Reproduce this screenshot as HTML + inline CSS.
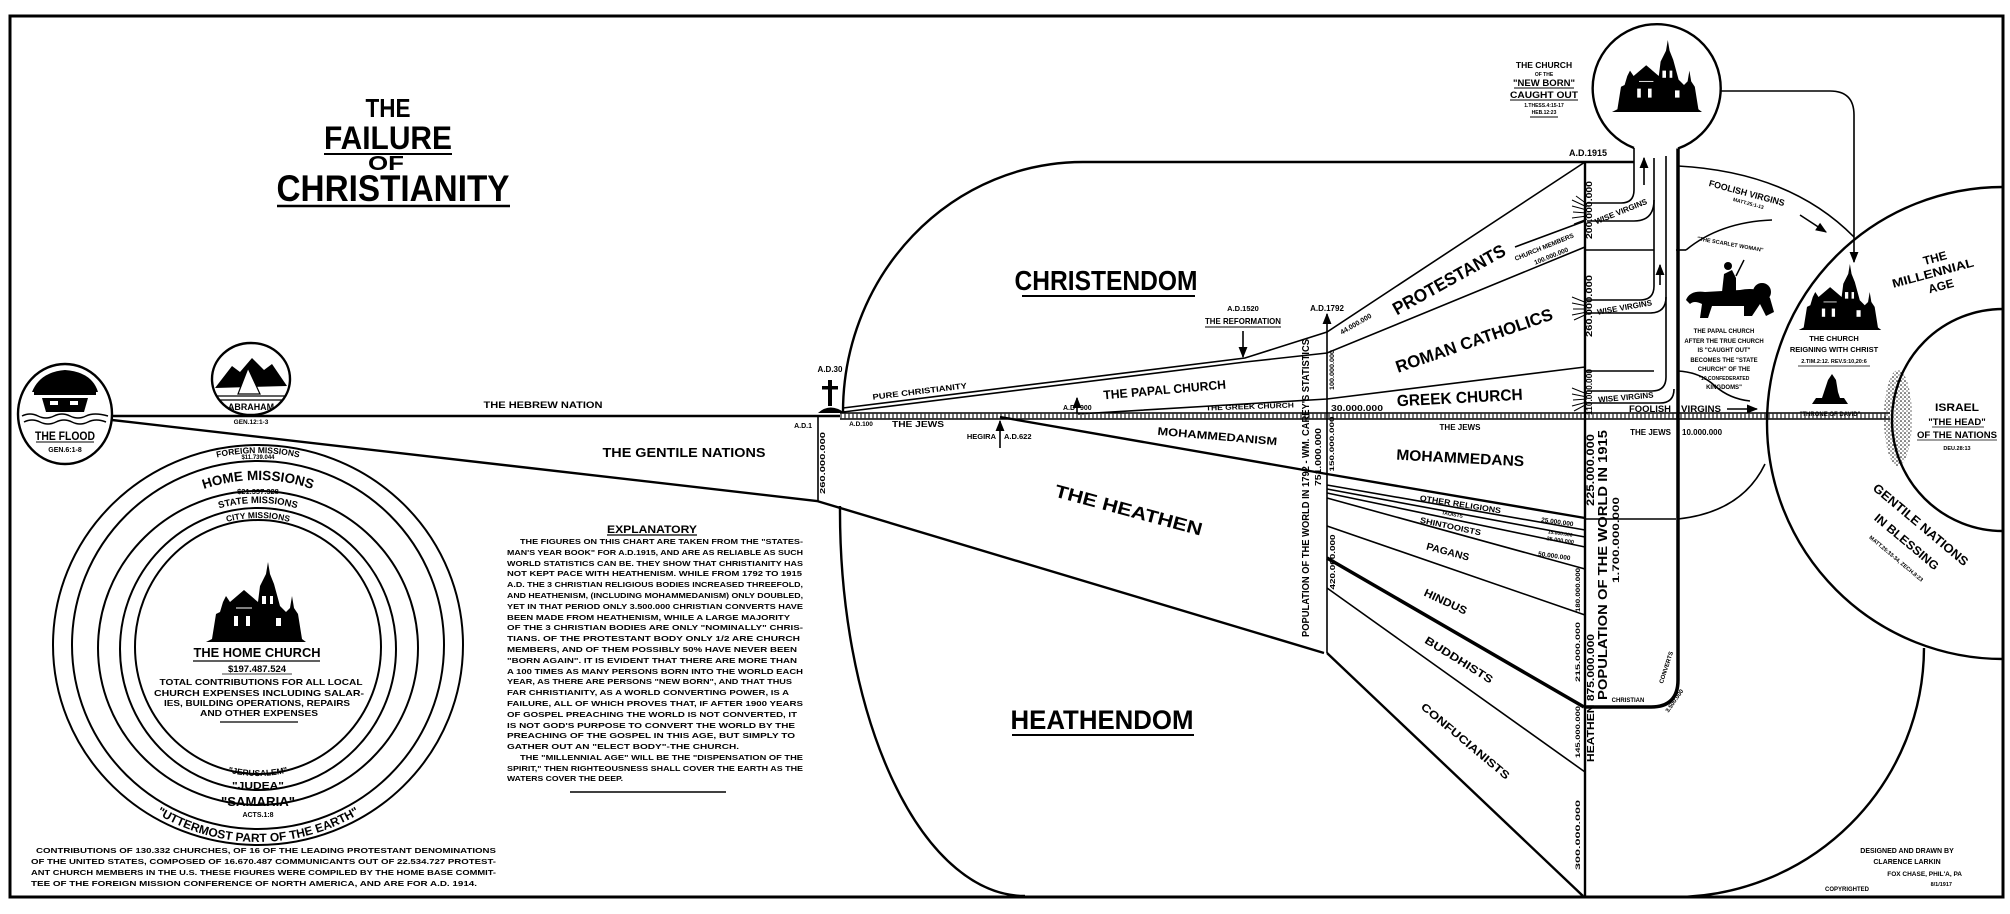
<!DOCTYPE html>
<html><head><meta charset="utf-8">
<style>
html,body{margin:0;padding:0;background:#fff;}
svg{display:block;}
text{font-family:"Liberation Sans",sans-serif;font-weight:bold;fill:#000;}
.ln{stroke:#000;fill:none;stroke-width:1.6;}
.th{stroke:#000;fill:none;stroke-width:2.4;}
</style></head>
<body>
<svg width="2010" height="914" viewBox="0 0 2010 914" xmlns="http://www.w3.org/2000/svg">
<defs>
<symbol id="church" viewBox="0 0 100 80">
<path d="M0,80 L100,80 L96,77 L92,52 L88,46 L86,34 L84,46 L80,50 L74,44 L68,22 L64,12 L62,0 L60,12 L54,24 L52,40 L38,28 L24,40 L20,34 L17,40 L14,50 L10,52 L6,77 Z" fill="#000"/>
<rect x="56" y="34" width="4" height="8" fill="#fff"/><rect x="64" y="34" width="3" height="8" fill="#fff"/>
<rect x="28" y="54" width="4" height="10" fill="#fff"/><rect x="40" y="54" width="4" height="10" fill="#fff"/>
<rect x="70" y="56" width="5" height="8" fill="#fff"/><path d="M30,46 L46,46" stroke="#fff" stroke-width="1"/>
</symbol>
<pattern id="dots" width="4" height="4" patternUnits="userSpaceOnUse"><circle cx="1" cy="1" r="0.8" fill="#000"/><circle cx="3" cy="3" r="0.6" fill="#000"/></pattern>
<marker id="ah" viewBox="0 0 10 10" refX="9" refY="5" markerWidth="7" markerHeight="7" orient="auto"><path d="M0,1 L10,5 L0,9 Z" fill="#000"/></marker>
<path id="fm" d="M65,646 A193,193 0 0 1 451,646"/>
<path id="hm" d="M92,646 A166,166 0 0 1 424,646"/>
<path id="sm" d="M115,646 A143,143 0 0 1 401,646"/>
<path id="cm" d="M130,646 A128,128 0 0 1 386,646"/>
<path id="jer" d="M128,646 A130,130 0 0 0 388,646"/>
<path id="upe" d="M62,646 A196,196 0 0 0 454,646"/>
</defs>

<rect x="10" y="16" width="1993" height="881" fill="none" stroke="#000" stroke-width="3"/>

<text x="388" y="117" font-size="26" text-anchor="middle" textLength="45" lengthAdjust="spacingAndGlyphs">THE</text>
<text x="388" y="149" font-size="32" text-anchor="middle" textLength="128" lengthAdjust="spacingAndGlyphs">FAILURE</text>
<line x1="324" y1="154" x2="452" y2="154" stroke="#000" stroke-width="2"/>
<text x="386" y="170" font-size="20" text-anchor="middle" textLength="36" lengthAdjust="spacingAndGlyphs">OF</text>
<text x="393" y="201" font-size="37" text-anchor="middle" textLength="233" lengthAdjust="spacingAndGlyphs">CHRISTIANITY</text>
<line x1="277" y1="206" x2="510" y2="206" stroke="#000" stroke-width="2.5"/>

<ellipse cx="65" cy="414" rx="47" ry="50" class="th"/>
<path d="M32,392 Q40,372 65,370 Q92,372 98,392 Z" fill="#000"/>
<rect x="34" y="392" width="62" height="3" fill="#000"/>
<path d="M42,398 L88,398 L84,412 L46,412 Z" fill="#000"/>
<rect x="50" y="401" width="8" height="4" fill="#fff"/><rect x="70" y="401" width="8" height="4" fill="#fff"/>
<path d="M22,416 Q30,412 38,416 Q46,420 54,416 Q62,412 70,416 Q78,420 86,416 Q94,412 108,416 M24,422 Q32,418 40,422 Q48,426 56,422 Q64,418 72,422 Q80,426 88,422 Q96,418 106,422" stroke="#000" stroke-width="1.5" fill="none"/>
<text x="65" y="440" font-size="12" text-anchor="middle" textLength="60" lengthAdjust="spacingAndGlyphs">THE FLOOD</text>
<line x1="36" y1="442" x2="94" y2="442" stroke="#000" stroke-width="1"/>
<text x="65" y="452" font-size="7" text-anchor="middle">GEN.6:1-8</text>

<ellipse cx="251" cy="379" rx="39" ry="36" class="th"/>
<path d="M215,388 L232,366 L240,372 L252,358 L264,370 L272,364 L287,386 Z" fill="#000"/>
<path d="M248,368 L238,394 L260,394 Z" fill="#fff" stroke="#000" stroke-width="1.2"/>
<path d="M216,396 L286,396 M220,400 L282,400" stroke="#000" stroke-width="1.2"/>
<text x="251" y="410" font-size="9" text-anchor="middle" textLength="46" lengthAdjust="spacingAndGlyphs">ABRAHAM</text>
<text x="251" y="424" font-size="6.5" text-anchor="middle">GEN.12:1-3</text>

<line x1="112" y1="416" x2="842" y2="416" stroke="#000" stroke-width="2.6"/>
<text x="543" y="408" font-size="9.5" text-anchor="middle" textLength="119" lengthAdjust="spacingAndGlyphs">THE HEBREW NATION</text>
<polyline points="112,420 817,501 1324,653" class="th"/>
<text x="684" y="457" font-size="13" text-anchor="middle" textLength="163" lengthAdjust="spacingAndGlyphs">THE GENTILE NATIONS</text>

<line x1="818" y1="416" x2="818" y2="501" class="ln"/>
<text transform="translate(825,463) rotate(-90)" font-size="7" text-anchor="middle" textLength="62" lengthAdjust="spacingAndGlyphs">260.000.000</text>
<text x="812" y="428" font-size="7" text-anchor="end">A.D.1</text>
<rect x="828" y="380" width="4" height="26" fill="#000"/><rect x="822" y="386" width="16" height="3.5" fill="#000"/>
<path d="M818,413 Q830,402 845,413 Z" fill="#000"/>
<text x="830" y="372" font-size="8" text-anchor="middle">A.D.30</text>

<path d="M843,413 A240,250 0 0 1 1083,162 L1634,162" class="th"/>
<path d="M840,506 A185,385 0 0 0 1025,896" class="th"/>
<text x="1106" y="290" font-size="28" text-anchor="middle" textLength="183" lengthAdjust="spacingAndGlyphs">CHRISTENDOM</text>
<line x1="1022" y1="296" x2="1195" y2="296" stroke="#000" stroke-width="2"/>
<text x="1102" y="729" font-size="27" text-anchor="middle" textLength="183" lengthAdjust="spacingAndGlyphs">HEATHENDOM</text>
<line x1="1012" y1="735" x2="1194" y2="735" stroke="#000" stroke-width="2"/>

<polyline points="843,408 1245,358 1327,332 1585,162" class="ln"/>
<polyline points="843,412 1245,362 1327,353 1585,247" class="ln"/>
<polyline points="1078,414 1327,399 1585,367" class="ln"/>
<line x1="1243" y1="331" x2="1243" y2="357" class="ln" marker-end="url(#ah)"/>
<text x="1243" y="311" font-size="7.5" text-anchor="middle">A.D.1520</text>
<text x="1243" y="324" font-size="8.5" text-anchor="middle" textLength="76" lengthAdjust="spacingAndGlyphs">THE REFORMATION</text>
<line x1="1205" y1="327" x2="1281" y2="327" stroke="#000" stroke-width="1"/>
<line x1="1077" y1="414" x2="1077" y2="398" class="ln" marker-end="url(#ah)"/>
<text x="1075" y="410" font-size="7" text-anchor="end">A.D</text><text x="1080" y="410" font-size="7">900</text>
<text transform="translate(920,394) rotate(-7)" font-size="8" text-anchor="middle" textLength="95" lengthAdjust="spacingAndGlyphs">PURE CHRISTIANITY</text>
<text transform="translate(1165,394) rotate(-5)" font-size="12.5" text-anchor="middle" textLength="123" lengthAdjust="spacingAndGlyphs">THE PAPAL CHURCH</text>
<text transform="translate(1250,409) rotate(-2)" font-size="7" text-anchor="middle" textLength="88" lengthAdjust="spacingAndGlyphs">THE GREEK CHURCH</text>

<line x1="840" y1="416" x2="1888" y2="416" stroke="#777" stroke-width="4.5" stroke-dasharray="2,2"/>
<line x1="840" y1="413" x2="1890" y2="413" stroke="#000" stroke-width="1.6"/>
<line x1="840" y1="419" x2="1890" y2="419" stroke="#000" stroke-width="1.6"/>

<text x="861" y="426" font-size="6.5" text-anchor="middle">A.D.100</text>
<text x="918" y="427" font-size="8.5" text-anchor="middle" textLength="52" lengthAdjust="spacingAndGlyphs">THE JEWS</text>
<line x1="1000" y1="448" x2="1000" y2="421" class="ln" marker-end="url(#ah)"/>
<text x="996" y="439" font-size="7.5" text-anchor="end">HEGIRA</text>
<text x="1004" y="439" font-size="7.5">A.D.622</text>

<polyline points="1000,417 1327,474 1585,518" class="th"/>
<text transform="translate(1217,440) rotate(5)" font-size="11" text-anchor="middle" textLength="120" lengthAdjust="spacingAndGlyphs">MOHAMMEDANISM</text>
<text transform="translate(1127,516) rotate(15)" font-size="18" text-anchor="middle" textLength="152" lengthAdjust="spacingAndGlyphs">THE HEATHEN</text>

<line x1="1327" y1="485" x2="1585" y2="530" class="ln"/>
<line x1="1327" y1="489" x2="1585" y2="537" class="ln"/>
<line x1="1327" y1="493" x2="1585" y2="547" class="ln"/>
<line x1="1327" y1="498" x2="1585" y2="569" class="ln"/>
<line x1="1327" y1="526" x2="1585" y2="615" class="ln"/>
<line x1="1327" y1="558" x2="1584" y2="707" stroke="#000" stroke-width="3.5"/>
<line x1="1327" y1="588" x2="1585" y2="772" class="ln"/>
<line x1="1327" y1="653" x2="1583" y2="896" class="th"/>

<line x1="1327" y1="653" x2="1327" y2="314" class="ln" marker-end="url(#ah)"/>
<text x="1327" y="311" font-size="8" text-anchor="middle">A.D.1792</text>
<text transform="translate(1309,488) rotate(-90)" font-size="10.5" text-anchor="middle" textLength="298" lengthAdjust="spacingAndGlyphs">POPULATION OF THE WORLD IN 1792 - WM. CAREY'S STATISTICS</text>
<text transform="translate(1321,457) rotate(-90)" font-size="8" text-anchor="middle" textLength="58" lengthAdjust="spacingAndGlyphs">751.000.000</text>
<text transform="translate(1334,370) rotate(-90)" font-size="6" text-anchor="middle" textLength="40" lengthAdjust="spacingAndGlyphs">100.000.000</text>
<text transform="translate(1334,444) rotate(-90)" font-size="6.5" text-anchor="middle" textLength="55" lengthAdjust="spacingAndGlyphs">150.000.000</text>
<text transform="translate(1335,562) rotate(-90)" font-size="7" text-anchor="middle" textLength="55" lengthAdjust="spacingAndGlyphs">420.000.000</text>
<text transform="translate(1357,326) rotate(-30)" font-size="7" text-anchor="middle">44.000.000</text>
<text x="1331" y="411" font-size="8" textLength="52" lengthAdjust="spacingAndGlyphs">30.000.000</text>

<text transform="translate(1452,285) rotate(-29)" font-size="18" text-anchor="middle" textLength="126" lengthAdjust="spacingAndGlyphs">PROTESTANTS</text>
<line x1="1515" y1="247" x2="1585" y2="221" class="ln"/>
<text transform="translate(1545,249) rotate(-22)" font-size="6.5" text-anchor="middle">CHURCH MEMBERS</text>
<text transform="translate(1552,258) rotate(-22)" font-size="6.5" text-anchor="middle">100.000.000</text>
<text transform="translate(1476,346) rotate(-19)" font-size="17" text-anchor="middle" textLength="165" lengthAdjust="spacingAndGlyphs">ROMAN CATHOLICS</text>
<text transform="translate(1460,403) rotate(-3)" font-size="16" text-anchor="middle" textLength="126" lengthAdjust="spacingAndGlyphs">GREEK CHURCH</text>
<text x="1460" y="430" font-size="8" text-anchor="middle">THE JEWS</text>
<text transform="translate(1460,463) rotate(3)" font-size="15" text-anchor="middle" textLength="128" lengthAdjust="spacingAndGlyphs">MOHAMMEDANS</text>
<text transform="translate(1460,507) rotate(9)" font-size="8" text-anchor="middle" textLength="82" lengthAdjust="spacingAndGlyphs">OTHER RELIGIONS</text>
<text transform="translate(1452,516) rotate(10)" font-size="5" text-anchor="middle">TAOISTS</text>
<text transform="translate(1450,529) rotate(12)" font-size="8" text-anchor="middle" textLength="62" lengthAdjust="spacingAndGlyphs">SHINTOOISTS</text>
<text transform="translate(1447,555) rotate(15)" font-size="10" text-anchor="middle" textLength="44" lengthAdjust="spacingAndGlyphs">PAGANS</text>
<text transform="translate(1444,605) rotate(25)" font-size="11" text-anchor="middle" textLength="46" lengthAdjust="spacingAndGlyphs">HINDUS</text>
<text transform="translate(1457,663) rotate(32)" font-size="11" text-anchor="middle" textLength="78" lengthAdjust="spacingAndGlyphs">BUDDHISTS</text>
<text transform="translate(1463,744) rotate(40)" font-size="11" text-anchor="middle" textLength="112" lengthAdjust="spacingAndGlyphs">CONFUCIANISTS</text>
<text transform="translate(1557,524) rotate(8)" font-size="6.5" text-anchor="middle">25.000.000</text>
<text transform="translate(1560,535) rotate(8)" font-size="5" text-anchor="middle">15.000.000</text>
<text transform="translate(1560,542) rotate(8)" font-size="5.5" text-anchor="middle">25.000.000</text>
<text transform="translate(1554,558) rotate(8)" font-size="6.5" text-anchor="middle">50.000.000</text>

<line x1="1585" y1="162" x2="1585" y2="896" class="th"/>
<text x="1588" y="156" font-size="9" text-anchor="middle">A.D.1915</text>
<text transform="translate(1592,210) rotate(-90)" font-size="8.5" text-anchor="middle" textLength="58" lengthAdjust="spacingAndGlyphs">200.000.000</text>
<text transform="translate(1592,306) rotate(-90)" font-size="8.5" text-anchor="middle" textLength="62" lengthAdjust="spacingAndGlyphs">260.000.000</text>
<text transform="translate(1592,392) rotate(-90)" font-size="8.5" text-anchor="middle" textLength="46" lengthAdjust="spacingAndGlyphs">110.000.000</text>
<text transform="translate(1594,470) rotate(-90)" font-size="11" text-anchor="middle" textLength="72" lengthAdjust="spacingAndGlyphs">225.000.000</text>
<text transform="translate(1607,565) rotate(-90)" font-size="13" text-anchor="middle" textLength="270" lengthAdjust="spacingAndGlyphs">POPULATION OF THE WORLD IN 1915</text>
<text transform="translate(1619,540) rotate(-90)" font-size="9" text-anchor="middle" textLength="86" lengthAdjust="spacingAndGlyphs">1.700.000.000</text>
<text transform="translate(1594,698) rotate(-90)" font-size="10" text-anchor="middle" textLength="128" lengthAdjust="spacingAndGlyphs">HEATHEN 875.000.000</text>
<text transform="translate(1580,590) rotate(-90)" font-size="6" text-anchor="middle" textLength="44" lengthAdjust="spacingAndGlyphs">180.000.000</text>
<text transform="translate(1580,652) rotate(-90)" font-size="6.5" text-anchor="middle" textLength="60" lengthAdjust="spacingAndGlyphs">215.000.000</text>
<text transform="translate(1580,732) rotate(-90)" font-size="6.5" text-anchor="middle" textLength="52" lengthAdjust="spacingAndGlyphs">145.000.000</text>
<text transform="translate(1580,835) rotate(-90)" font-size="6.5" text-anchor="middle" textLength="70" lengthAdjust="spacingAndGlyphs">300.000.000</text>

<line x1="1585" y1="250" x2="1654" y2="250" class="ln"/>
<line x1="1676" y1="250" x2="1686" y2="250" class="ln"/>
<line x1="1585" y1="371" x2="1654" y2="371" class="ln"/>
<line x1="1585" y1="519" x2="1676" y2="519" class="ln"/>

<path d="M1634,148 A64,64 0 1 1 1678,148.5" class="th"/>
<use href="#church" x="1612" y="40" width="90" height="72"/>
<text x="1544" y="68" font-size="8.5" text-anchor="middle">THE CHURCH</text>
<text x="1544" y="76" font-size="5" text-anchor="middle">OF THE</text>
<text x="1544" y="86" font-size="9.5" text-anchor="middle" textLength="62" lengthAdjust="spacingAndGlyphs">"NEW BORN"</text>
<line x1="1514" y1="88" x2="1574" y2="88" stroke="#000" stroke-width="1"/>
<text x="1544" y="98" font-size="9.5" text-anchor="middle" textLength="68" lengthAdjust="spacingAndGlyphs">CAUGHT OUT</text>
<line x1="1510" y1="100" x2="1578" y2="100" stroke="#000" stroke-width="1"/>
<text x="1544" y="107" font-size="5" text-anchor="middle">1.THESS.4:15-17</text>
<text x="1544" y="114" font-size="5" text-anchor="middle">HEB.12:23</text>
<line x1="1530" y1="117" x2="1558" y2="117" stroke="#000" stroke-width="1"/>

<path d="M1634,148 V190 Q1634,203 1621,203 H1587" class="ln"/>
<path d="M1587,221 H1634 Q1654,221 1654,200" class="ln"/>
<path d="M1654,158 V286 Q1654,300 1640,300 H1587" class="ln"/>
<path d="M1587,313 H1650 Q1666,313 1666,297" class="ln"/>
<path d="M1666,156 V377 Q1666,391 1652,391 H1587" class="ln"/>
<path d="M1587,403 H1660 Q1674,403 1674,389" class="ln"/>
<path d="M1678,148.5 V680 Q1678,707 1651,707 H1584" stroke="#000" stroke-width="3.5" fill="none"/>
<line x1="1644" y1="185" x2="1644" y2="158" class="ln" marker-end="url(#ah)"/>
<line x1="1660" y1="285" x2="1660" y2="265" class="ln" marker-end="url(#ah)"/>
<text transform="translate(1622,214) rotate(-22)" font-size="8" text-anchor="middle">WISE VIRGINS</text>
<text transform="translate(1625,310) rotate(-10)" font-size="8" text-anchor="middle">WISE VIRGINS</text>
<text transform="translate(1626,400) rotate(-5)" font-size="8" text-anchor="middle">WISE VIRGINS</text>
<g stroke="#000" stroke-width="1">
<path d="M1572,200 L1587,207 M1572,206 L1587,210 M1573,212 L1587,213 M1572,218 L1587,216 M1574,224 L1587,219 M1576,196 L1587,204"/>
<path d="M1572,297 L1587,303 M1572,303 L1587,306 M1573,309 L1587,309 M1572,315 L1587,312 M1574,320 L1587,314"/>
<path d="M1572,388 L1587,394 M1572,394 L1587,397 M1573,400 L1587,399 M1572,406 L1587,402 M1574,411 L1587,404"/>
</g>

<text x="1671" y="412" font-size="9" text-anchor="end" textLength="42" lengthAdjust="spacingAndGlyphs">FOOLISH</text>
<text x="1681" y="412" font-size="9" textLength="40" lengthAdjust="spacingAndGlyphs">VIRGINS</text>
<line x1="1727" y1="409" x2="1757" y2="409" class="ln" marker-end="url(#ah)"/>
<text x="1671" y="435" font-size="8" text-anchor="end">THE JEWS</text>
<text x="1682" y="435" font-size="8">10.000.000</text>
<text x="1628" y="702" font-size="6" text-anchor="middle">CHRISTIAN</text>
<text transform="translate(1668,668) rotate(-72)" font-size="6" text-anchor="middle">CONVERTS</text>
<text transform="translate(1676,702) rotate(-55)" font-size="6" text-anchor="middle">3.500.000</text>

<path d="M1721,91 H1830 Q1854,91 1854,115 V262" class="ln" marker-end="url(#ah)"/>

<path d="M1678,166 Q1790,172 1854,237" class="ln"/>
<path d="M1678,519 Q1742,512 1765,464" class="ln"/>
<text transform="translate(1746,196) rotate(15)" font-size="9" text-anchor="middle" textLength="78" lengthAdjust="spacingAndGlyphs">FOOLISH VIRGINS</text>
<text transform="translate(1748,205) rotate(15)" font-size="5" text-anchor="middle">MATT.25:1-13</text>
<line x1="1800" y1="215" x2="1826" y2="232" class="ln" marker-end="url(#ah)"/>

<path d="M1686,250 Q1720,222 1772,220" class="ln"/>
<path d="M1678,371 Q1700,372 1715,386 Q1730,399 1750,401" class="ln"/>
<text transform="translate(1730,246) rotate(10)" font-size="5.5" text-anchor="middle">"THE SCARLET WOMAN"</text>
<path d="M1686,300 Q1690,290 1705,292 L1740,290 Q1760,286 1770,298 L1774,312 L1766,316 L1760,304 L1752,316 L1744,316 L1744,306 L1712,306 L1708,318 L1700,318 L1702,304 Q1694,300 1690,304 Z" fill="#000"/>
<circle cx="1762" cy="292" r="9" fill="#000"/>
<path d="M1722,292 L1724,274 L1732,270 L1736,278 L1736,292 Z" fill="#000"/>
<circle cx="1728" cy="266" r="4" fill="#000"/>
<line x1="1736" y1="276" x2="1744" y2="260" stroke="#000" stroke-width="1.5"/>
<g font-size="6" text-anchor="middle">
<text x="1724" y="333">THE PAPAL CHURCH</text>
<text x="1724" y="343">AFTER THE TRUE CHURCH</text>
<text x="1724" y="352">IS "CAUGHT OUT"</text>
<text x="1724" y="362">BECOMES THE "STATE</text>
<text x="1724" y="371">CHURCH" OF THE</text>
<text x="1724" y="380" font-size="5">"10 CONFEDERATED</text>
<text x="1724" y="389">KINGDOMS"</text>
</g>

<path d="M2003,187 A236,236 0 1 0 2003,659" class="th"/>
<path d="M2003,309 A111,111 0 0 0 2003,531" class="th"/>
<path d="M1674,897 A250,250 0 0 0 1924,648" class="th"/>
<ellipse cx="1898" cy="418" rx="14" ry="48" fill="url(#dots)"/>
<text transform="translate(1936,262) rotate(-15)" font-size="12" text-anchor="middle">THE</text>
<text transform="translate(1934,277) rotate(-15)" font-size="12" text-anchor="middle" textLength="84" lengthAdjust="spacingAndGlyphs">MILLENNIAL</text>
<text transform="translate(1942,290) rotate(-15)" font-size="12" text-anchor="middle">AGE</text>
<use href="#church" x="1790" y="264" width="100" height="66"/>
<text x="1834" y="341" font-size="7.5" text-anchor="middle">THE CHURCH</text>
<text x="1834" y="352" font-size="7.5" text-anchor="middle">REIGNING WITH CHRIST</text>
<text x="1834" y="363" font-size="5.5" text-anchor="middle">2.TIM.2:12. REV.5:10,20:6</text>
<line x1="1798" y1="366" x2="1870" y2="366" stroke="#000" stroke-width="0.8"/>
<path d="M1812,404 L1848,404 L1844,398 L1840,398 L1838,392 L1836,380 L1832,374 L1828,380 L1824,392 L1822,398 L1816,398 Z" fill="#000"/>
<text x="1830" y="416" font-size="6" text-anchor="middle">"THRONE OF DAVID"</text>
<text x="1957" y="411" font-size="11" text-anchor="middle" textLength="44" lengthAdjust="spacingAndGlyphs">ISRAEL</text>
<text x="1957" y="425" font-size="9.5" text-anchor="middle">"THE HEAD"</text>
<line x1="1932" y1="427" x2="1984" y2="427" stroke="#000" stroke-width="0.8"/>
<text x="1957" y="438" font-size="9.5" text-anchor="middle" textLength="80" lengthAdjust="spacingAndGlyphs">OF THE NATIONS</text>
<line x1="1917" y1="440" x2="1997" y2="440" stroke="#000" stroke-width="0.8"/>
<text x="1957" y="450" font-size="5.5" text-anchor="middle">DEU.28:13</text>
<text transform="translate(1918,528) rotate(40)" font-size="12.5" text-anchor="middle" textLength="120" lengthAdjust="spacingAndGlyphs">GENTILE NATIONS</text>
<text transform="translate(1904,545) rotate(40)" font-size="12" text-anchor="middle" textLength="80" lengthAdjust="spacingAndGlyphs">IN BLESSING</text>
<text transform="translate(1895,560) rotate(40)" font-size="5.5" text-anchor="middle">MATT.25:33-34, ZECH.8:23</text>

<text x="1907" y="853" font-size="7" text-anchor="middle">DESIGNED AND DRAWN BY</text>
<text x="1907" y="864" font-size="7" text-anchor="middle">CLARENCE LARKIN</text>
<text x="1962" y="876" font-size="6.5" text-anchor="end">FOX CHASE, PHIL'A, PA</text>
<text x="1952" y="886" font-size="5.5" text-anchor="end">8/1/1917</text>
<text x="1847" y="891" font-size="6" text-anchor="middle">COPYRIGHTED</text>

<g class="th" style="stroke-width:2">
<ellipse cx="258" cy="645" rx="205" ry="200"/>
<ellipse cx="258" cy="645" rx="186" ry="184"/>
<ellipse cx="258" cy="648" rx="160" ry="157"/>
<ellipse cx="258" cy="649" rx="138" ry="141"/>
<ellipse cx="258" cy="647" rx="123" ry="127"/>
</g>
<text font-size="8.5"><textPath href="#fm" startOffset="50%" text-anchor="middle">FOREIGN MISSIONS</textPath></text>
<text x="258" y="459" font-size="6" text-anchor="middle">$11.739.044</text>
<text font-size="13.5"><textPath href="#hm" startOffset="50%" text-anchor="middle">HOME MISSIONS</textPath></text>
<text x="258" y="494" font-size="7.5" text-anchor="middle">$21.337.328</text>
<text font-size="9.5"><textPath href="#sm" startOffset="50%" text-anchor="middle">STATE MISSIONS</textPath></text>
<text font-size="8.5"><textPath href="#cm" startOffset="50%" text-anchor="middle">CITY MISSIONS</textPath></text>
<use href="#church" x="185" y="562" width="142" height="80"/>
<text x="257" y="657" font-size="13" text-anchor="middle" textLength="127" lengthAdjust="spacingAndGlyphs">THE HOME CHURCH</text>
<line x1="193" y1="661" x2="320" y2="661" stroke="#000" stroke-width="1.2"/>
<text x="257" y="672" font-size="9.5" text-anchor="middle">$197.487.524</text>
<line x1="222" y1="674" x2="292" y2="674" stroke="#000" stroke-width="0.8"/>
<text x="261" y="685" font-size="8.5" text-anchor="middle" textLength="203" lengthAdjust="spacingAndGlyphs">TOTAL CONTRIBUTIONS FOR ALL LOCAL</text>
<text x="259" y="696" font-size="8.5" text-anchor="middle" textLength="210" lengthAdjust="spacingAndGlyphs">CHURCH EXPENSES INCLUDING SALAR-</text>
<text x="257" y="706" font-size="8.5" text-anchor="middle" textLength="186" lengthAdjust="spacingAndGlyphs">IES, BUILDING OPERATIONS, REPAIRS</text>
<text x="259" y="716" font-size="8.5" text-anchor="middle" textLength="118" lengthAdjust="spacingAndGlyphs">AND OTHER EXPENSES</text>
<line x1="220" y1="722" x2="298" y2="722" stroke="#000" stroke-width="1.2"/>
<text font-size="8.5"><textPath href="#jer" startOffset="50%" text-anchor="middle">"JERUSALEM"</textPath></text>
<text x="258" y="789" font-size="10" text-anchor="middle" textLength="52" lengthAdjust="spacingAndGlyphs">"JUDEA"</text>
<text x="258" y="806" font-size="13" text-anchor="middle" textLength="74" lengthAdjust="spacingAndGlyphs">"SAMARIA"</text>
<text x="258" y="817" font-size="7" text-anchor="middle">ACTS.1:8</text>
<text font-size="12"><textPath href="#upe" startOffset="50%" text-anchor="middle">"UTTERMOST PART OF THE EARTH"</textPath></text>

<g font-size="7.6">
<text x="36" y="853" textLength="460" lengthAdjust="spacingAndGlyphs">CONTRIBUTIONS OF 130.332 CHURCHES, OF 16 OF THE LEADING PROTESTANT DENOMINATIONS</text>
<text x="31" y="864" textLength="465" lengthAdjust="spacingAndGlyphs">OF THE UNITED STATES, COMPOSED OF 16.670.487 COMMUNICANTS OUT OF 22.534.727 PROTEST-</text>
<text x="31" y="875" textLength="465" lengthAdjust="spacingAndGlyphs">ANT CHURCH MEMBERS IN THE U.S. THESE FIGURES WERE COMPILED BY THE HOME BASE COMMIT-</text>
<text x="31" y="886" textLength="446" lengthAdjust="spacingAndGlyphs">TEE OF THE FOREIGN MISSION CONFERENCE OF NORTH AMERICA, AND ARE FOR A.D. 1914.</text>
</g>

<text x="652" y="533" font-size="11" text-anchor="middle" textLength="90" lengthAdjust="spacingAndGlyphs">EXPLANATORY</text>
<line x1="607" y1="535" x2="697" y2="535" stroke="#000" stroke-width="1.2"/>
<g font-size="7.6">
<text x="520" y="544" textLength="283" lengthAdjust="spacingAndGlyphs">THE FIGURES ON THIS CHART ARE TAKEN FROM THE "STATES-</text>
<text x="507" y="555" textLength="296" lengthAdjust="spacingAndGlyphs">MAN'S YEAR BOOK" FOR A.D.1915, AND ARE AS RELIABLE AS SUCH</text>
<text x="507" y="566" textLength="296" lengthAdjust="spacingAndGlyphs">WORLD STATISTICS CAN BE. THEY SHOW THAT CHRISTIANITY HAS</text>
<text x="507" y="576" textLength="295" lengthAdjust="spacingAndGlyphs">NOT KEPT PACE WITH HEATHENISM.  WHILE FROM 1792 TO 1915</text>
<text x="507" y="587" textLength="296" lengthAdjust="spacingAndGlyphs">A.D. THE 3 CHRISTIAN RELIGIOUS BODIES INCREASED THREEFOLD,</text>
<text x="507" y="598" textLength="296" lengthAdjust="spacingAndGlyphs">AND HEATHENISM, (INCLUDING MOHAMMEDANISM) ONLY DOUBLED,</text>
<text x="507" y="609" textLength="296" lengthAdjust="spacingAndGlyphs">YET IN THAT PERIOD ONLY 3.500.000 CHRISTIAN CONVERTS HAVE</text>
<text x="507" y="620" textLength="283" lengthAdjust="spacingAndGlyphs">BEEN MADE FROM HEATHENISM, WHILE A LARGE MAJORITY</text>
<text x="507" y="630" textLength="296" lengthAdjust="spacingAndGlyphs">OF THE 3 CHRISTIAN BODIES ARE ONLY "NOMINALLY" CHRIS-</text>
<text x="507" y="641" textLength="293" lengthAdjust="spacingAndGlyphs">TIANS.  OF THE PROTESTANT BODY ONLY 1/2 ARE CHURCH</text>
<text x="507" y="652" textLength="290" lengthAdjust="spacingAndGlyphs">MEMBERS, AND OF THEM POSSIBLY 50% HAVE NEVER BEEN</text>
<text x="507" y="663" textLength="290" lengthAdjust="spacingAndGlyphs">"BORN AGAIN".  IT IS EVIDENT THAT THERE ARE MORE THAN</text>
<text x="507" y="674" textLength="296" lengthAdjust="spacingAndGlyphs">A 100 TIMES AS MANY PERSONS BORN INTO THE WORLD EACH</text>
<text x="507" y="684" textLength="285" lengthAdjust="spacingAndGlyphs">YEAR, AS THERE ARE PERSONS "NEW BORN", AND THAT THUS</text>
<text x="507" y="695" textLength="282" lengthAdjust="spacingAndGlyphs">FAR CHRISTIANITY, AS A WORLD CONVERTING POWER, IS A</text>
<text x="507" y="706" textLength="296" lengthAdjust="spacingAndGlyphs">FAILURE, ALL OF WHICH PROVES THAT, IF AFTER 1900 YEARS</text>
<text x="507" y="717" textLength="290" lengthAdjust="spacingAndGlyphs">OF GOSPEL PREACHING THE WORLD IS NOT CONVERTED, IT</text>
<text x="507" y="728" textLength="288" lengthAdjust="spacingAndGlyphs">IS NOT GOD'S PURPOSE TO CONVERT THE WORLD BY THE</text>
<text x="507" y="738" textLength="288" lengthAdjust="spacingAndGlyphs">PREACHING OF THE GOSPEL IN THIS AGE, BUT SIMPLY TO</text>
<text x="507" y="749" textLength="232" lengthAdjust="spacingAndGlyphs">GATHER OUT AN "ELECT BODY"-THE CHURCH.</text>
<text x="520" y="760" textLength="283" lengthAdjust="spacingAndGlyphs">THE "MILLENNIAL AGE" WILL BE THE "DISPENSATION OF THE</text>
<text x="507" y="771" textLength="296" lengthAdjust="spacingAndGlyphs">SPIRIT," THEN RIGHTEOUSNESS SHALL COVER THE EARTH AS THE</text>
<text x="507" y="781" textLength="116" lengthAdjust="spacingAndGlyphs">WATERS COVER THE DEEP.</text>
</g>
<line x1="570" y1="792" x2="726" y2="792" stroke="#000" stroke-width="1.5"/>
</svg>
</body></html>
